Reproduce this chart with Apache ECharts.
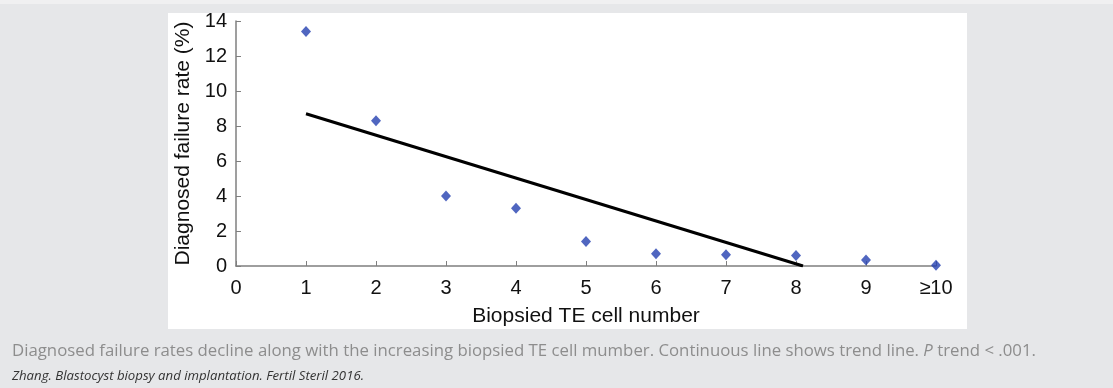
<!DOCTYPE html>
<html>
<head>
<meta charset="utf-8">
<script src="https://cdn.jsdelivr.net/npm/echarts@6/dist/echarts.min.js"></script>
<style>
html,body{margin:0;padding:0;background:#e6e7e9;}
#c{width:1113px;height:388px;}
</style>
</head>
<body>
<div id="c"></div>
<script>
// Data
const cellNumbers = [1, 2, 3, 4, 5, 6, 7, 8, 9, 10];
const failureRates = [13.4, 8.3, 4.0, 3.3, 1.4, 0.7, 0.65, 0.6, 0.35, 0.05];
const trendX = [1, 8.1];
const trendY = [8.7, 0];
const xTickLabels = ['0', '1', '2', '3', '4', '5', '6', '7', '8', '9', '≥10'];
const yTicks = [0, 2, 4, 6, 8, 10, 12, 14];

const chart = echarts.init(document.getElementById('c'), null, {renderer: 'canvas'});
const font = '"Liberation Sans", Arial, sans-serif';

chart.setOption({
  backgroundColor: '#e6e7e9',
  animation: false,
  graphic: [
    {type: 'rect', z: -10, shape: {x: 0, y: 0, width: 1113, height: 4}, style: {fill: '#f0f0f1'}},
    {type: 'rect', z: -10, shape: {x: 168, y: 13, width: 799, height: 316}, style: {fill: '#ffffff'}},
    {
      type: 'text', left: 12, top: 343,
      style: {
        text: '{a|Diagnosed failure rates decline along with the increasing biopsied TE cell mumber. Continuous line shows trend line. }{i|P}{a| trend < .001.}',
        rich: {
          a: {fontFamily: '"Open Sans", sans-serif', fontSize: 16.8, fill: '#8d8d8d'},
          i: {fontFamily: '"Open Sans", sans-serif', fontSize: 16.8, fill: '#8d8d8d', fontStyle: 'italic'}
        }
      }
    },
    {
      type: 'text', left: 12, top: 370,
      style: {
        text: 'Zhang. Blastocyst biopsy and implantation. Fertil Steril 2016.',
        fontFamily: '"Open Sans", sans-serif', fontSize: 13.2, fontStyle: 'italic', fill: '#333333'
      }
    }
  ],
  grid: {left: 236, right: 177, top: 21, bottom: 122, containLabel: false},
  xAxis: {
    type: 'value', min: 0, max: 10, interval: 1,
    name: 'Biopsied TE cell number', nameLocation: 'middle', nameGap: 40,
    nameTextStyle: {fontFamily: font, fontSize: 21, color: '#111'},
    axisLine: {lineStyle: {color: '#7f7f7f', width: 1.5}},
    axisTick: {inside: true, length: 5, lineStyle: {color: '#7f7f7f'}},
    axisLabel: {
      margin: 12, fontFamily: font, fontSize: 20, color: '#111',
      formatter: v => xTickLabels[Math.round(v)]
    },
    splitLine: {show: false}
  },
  yAxis: {
    type: 'value', min: yTicks[0], max: yTicks[yTicks.length - 1], interval: 2,
    name: 'Diagnosed failure rate (%)', nameLocation: 'middle', nameGap: 40,
    nameTextStyle: {fontFamily: font, fontSize: 21, color: '#111'},
    axisLine: {show: true, lineStyle: {color: '#7f7f7f', width: 1.5}},
    axisTick: {show: true, inside: true, length: 5, lineStyle: {color: '#7f7f7f'}},
    axisLabel: {margin: 9, fontFamily: font, fontSize: 20, color: '#111'},
    splitLine: {show: false}
  },
  series: [
    {
      type: 'line',
      data: trendX.map((x, i) => [x, trendY[i]]),
      showSymbol: false, symbol: 'none',
      lineStyle: {color: '#000', width: 3},
      z: 2
    },
    {
      type: 'scatter',
      data: cellNumbers.map((x, i) => [x, failureRates[i]]),
      symbol: 'diamond', symbolSize: [10, 11],
      itemStyle: {color: '#2440b0'},
      z: 3
    }
  ]
});
</script>
</body>
</html>
